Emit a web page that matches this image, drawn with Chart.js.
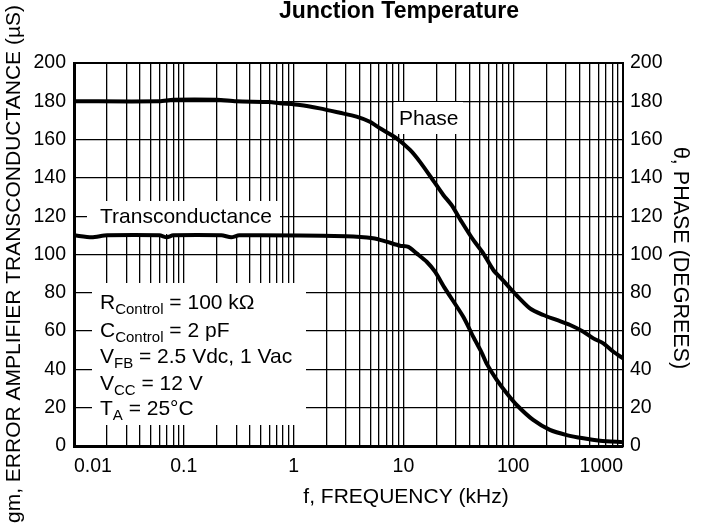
<!DOCTYPE html>
<html lang="en">
<head>
<meta charset="UTF-8">
<title>Error Amplifier Transconductance and Phase vs Frequency</title>
<script src="https://cdn.jsdelivr.net/npm/chart.js"></script>
<style>
  html, body { margin: 0; padding: 0; background: #fff; }
  canvas { display: block; }
</style>
</head>
<body>
<canvas id="chart" width="701" height="527"></canvas>
<script>
// axis ticks
var freqTickLabels = [0.01, 0.1, 1, 10, 100, 1000];
var yTicks = [0, 20, 40, 60, 80, 100, 120, 140, 160, 180, 200];

// gm, transconductance (uS) vs frequency (kHz)
var gmFreq = [0.01, 0.0145, 0.02, 0.06, 0.07, 0.08, 0.22, 0.27, 0.32, 3.0, 5.3, 7.0, 9.3, 11.1, 13.2, 16.3, 19.4, 23.9, 35.1, 43.3, 51.6, 57.3, 70.8, 87.3, 107.6, 152, 216, 307, 436, 618, 1000];
var gmValues = [110, 109, 110, 110, 109, 110, 110, 109, 110, 109.5, 108.5, 106.7, 104.6, 104, 100.6, 96.2, 91, 82.3, 67.5, 57, 48.8, 43, 34.5, 27.5, 21.4, 13.6, 8.4, 5.7, 4, 2.8, 2];

// phase (degrees) vs frequency (kHz)
var phaseFreq = [0.01, 0.06, 0.08, 0.2, 0.3, 0.6, 0.75, 1.14, 1.73, 2.64, 3.74, 4.95, 6.11, 8.67, 11.5, 14.1, 18.1, 23.1, 27.5, 33.9, 43.3, 53.4, 65.9, 80, 100, 142, 188, 249, 330, 436, 537, 662, 818, 1000];
var phaseValues = [180, 180, 180.8, 180.8, 180, 179.6, 179, 178.1, 176.3, 174, 172, 169.3, 165.9, 160.7, 154.6, 148.5, 139.8, 131.1, 125.8, 117.1, 107.6, 100.6, 91.9, 86.8, 80.6, 71.9, 68.4, 65.8, 63.2, 59.7, 56.2, 53.6, 49.2, 45.8];

var FONT = "'Liberation Sans', Arial, Helvetica, sans-serif";
Chart.defaults.font.family = FONT;
Chart.defaults.color = '#000';

function toPoints(xs, ys) {
    return xs.map(function (x, i) { return { x: x, y: ys[i] }; });
}

// draw text with a subscript part
function drawSub(c, x, y, parts) {
    parts.forEach(function (p) {
        c.font = p[1] ? '15px ' + FONT : '21px ' + FONT;
        c.fillText(p[0], x, y + (p[1] ? 5 : 0));
        x += c.measureText(p[0]).width;
    });
}

var notes = {
    id: 'notes',
    beforeDatasetsDraw: function (chart) {
        // white boxes behind the labels hide the grid
        var c = chart.ctx;
        c.save();
        c.fillStyle = '#fff';
        c.fillRect(87, 201, 193, 33);
        c.fillRect(394, 102, 69, 32);
        c.fillRect(92, 283, 214, 142);
        c.restore();
    },
    afterDraw: function (chart) {
        var c = chart.ctx;
        c.save();
        c.fillStyle = '#000';
        c.textBaseline = 'middle';
        c.textAlign = 'center';
        c.font = 'bold 23px ' + FONT;
        c.fillText('Junction Temperature', 399, 12);
        c.font = '21px ' + FONT;
        c.fillText('f, FREQUENCY (kHz)', 406, 497);

        // right axis title
        c.save();
        c.translate(680, 258);
        c.rotate(Math.PI / 2);
        c.font = '21.5px ' + FONT;
        c.fillText('\u03b8, PHASE (DEGREES)', 0, 0);
        c.restore();

        // left axis title (cut by the frame)
        c.save();
        c.translate(14, 264);
        c.rotate(-Math.PI / 2);
        c.font = '21px ' + FONT;
        c.fillText('gm, ERROR AMPLIFIER TRANSCONDUCTANCE (\u00b5S)', 0, 0);
        c.restore();

        c.textAlign = 'left';
        c.font = '21px ' + FONT;
        c.fillText('Transconductance', 100, 217);
        c.fillText('Phase', 399, 119);

        c.textBaseline = 'alphabetic';
        drawSub(c, 100, 309, [['R'], ['Control', 1], [' = 100 k\u03a9']]);
        drawSub(c, 100, 337, [['C'], ['Control', 1], [' = 2 pF']]);
        drawSub(c, 100, 363, [['V'], ['FB', 1], [' = 2.5 Vdc, 1 Vac']]);
        drawSub(c, 100, 390, [['V'], ['CC', 1], [' = 12 V']]);
        drawSub(c, 100, 415, [['T'], ['A', 1], [' = 25\u00b0C']]);
        c.restore();
    }
};

var lineStyle = {
    borderColor: '#000',
    borderWidth: 4,
    pointRadius: 0,
    tension: 0.25,
    fill: false,
    borderJoinStyle: 'round',
    borderCapStyle: 'round'
};

new Chart(document.getElementById('chart'), {
    type: 'line',
    data: {
        datasets: [
            Object.assign({ label: 'Transconductance', data: toPoints(gmFreq, gmValues), yAxisID: 'y' }, lineStyle),
            Object.assign({ label: 'Phase', data: toPoints(phaseFreq, phaseValues), yAxisID: 'y2' }, lineStyle)
        ]
    },
    options: {
        responsive: false,
        devicePixelRatio: 1,
        animation: false,
        layout: { padding: { top: 63, left: 0, right: 0, bottom: 0 } },
        plugins: { legend: { display: false }, tooltip: { enabled: false }, title: { display: false } },
        scales: {
            x: {
                type: 'logarithmic',
                min: freqTickLabels[0],
                max: freqTickLabels[freqTickLabels.length - 1],
                afterBuildTicks: function (scale) {
                    var vals = [];
                    for (var d = 0; d < freqTickLabels.length - 1; d++) {
                        for (var m = 1; m < 10; m++) {
                            vals.push(+(freqTickLabels[d] * m).toPrecision(6));
                        }
                    }
                    vals.push(freqTickLabels[freqTickLabels.length - 1]);
                    scale.ticks = vals.map(function (v) { return { value: v }; });
                },
                afterFit: function (scale) { scale.height = 81; },
                ticks: {
                    autoSkip: false,
                    maxRotation: 0,
                    minRotation: 0,
                    align: 'inner',
                    padding: 9,
                    font: { size: 19.5 },
                    callback: function (v) {
                        return freqTickLabels.indexOf(v) >= 0 ? String(v) : '';
                    }
                },
                grid: { color: '#000', lineWidth: 1.3, drawTicks: false },
                border: { color: '#000', width: 3 }
            },
            y: {
                position: 'left',
                min: yTicks[0],
                max: yTicks[yTicks.length - 1],
                afterFit: function (scale) { scale.width = 74; },
                ticks: { stepSize: yTicks[1] - yTicks[0], padding: 8, font: { size: 19.5 } },
                grid: {
                    color: '#000',
                    drawTicks: false,
                    lineWidth: function (ctx) { return ctx.tick && ctx.tick.value === 200 ? 2 : 1.3; }
                },
                border: { color: '#000', width: 3 }
            },
            y2: {
                position: 'right',
                min: yTicks[0],
                max: yTicks[yTicks.length - 1],
                afterFit: function (scale) { scale.width = 78; },
                ticks: { stepSize: yTicks[1] - yTicks[0], padding: 7, font: { size: 19.5 } },
                grid: { display: false, drawTicks: false },
                border: { color: '#000', width: 2 }
            }
        }
    },
    plugins: [notes]
});
</script>
</body>
</html>
